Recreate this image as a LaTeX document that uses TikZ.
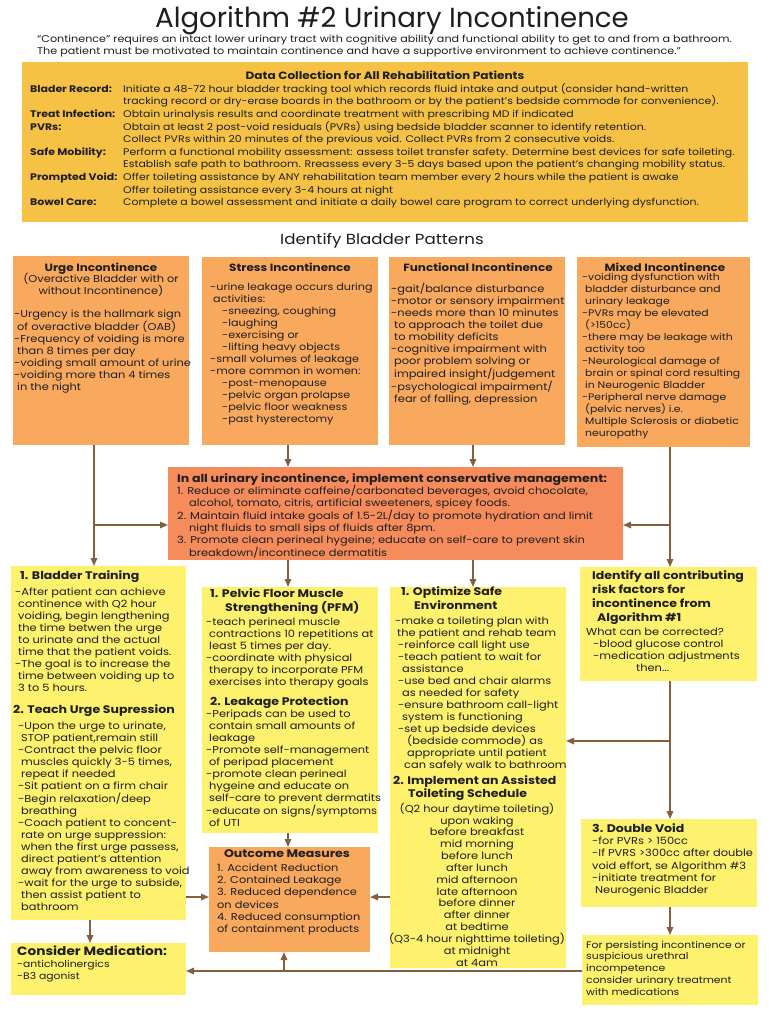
\documentclass[tikz,border=0pt]{standalone}
\usepackage{fontspec}
\setmainfont{Poppins}[FakeStretch=1.14]
\newfontfamily\titlefont{Poppins}
\usetikzlibrary{arrows.meta}
\definecolor{goldbox}{HTML}{F6C245}
\definecolor{orbox}{HTML}{F9A95E}
\definecolor{consbox}{HTML}{F68C5B}
\definecolor{yelbox}{HTML}{FDF16D}
\definecolor{arrc}{HTML}{84603F}
\definecolor{ink}{HTML}{1E1E1E}
\begin{document}
\begin{tikzpicture}[x=1pt,y=-1pt,
  bx/.style={draw=none,inner sep=0pt,outer sep=0pt,anchor=north west},
  orb/.style={bx,fill=orbox},
  ylb/.style={bx,fill=yelbox},
  arr/.style={draw=arrc,line width=1.5pt,-{Triangle[length=8pt,width=6.5pt]}},
  txt/.style={inner sep=0pt,anchor=north west,align=left,text=ink,execute at begin node=\strut},
  ctxt/.style={txt,anchor=north,align=center},
  bd/.style={font=\fontsize{10}{12}\selectfont},
  hd/.style={font=\fontsize{11}{14}\selectfont\bfseries},
  pt/.style={font=\fontsize{10.5}{13}\selectfont\bfseries},
]
\useasboundingbox (0,0) rectangle (768,1024);
\fill[white] (0,0) rectangle (768,1024);

% ---------- title ----------
\node[font=\titlefont\fontsize{27.6}{30}\selectfont,text=ink,inner sep=0pt] (title) at (392,21) {Algorithm \#2 Urinary Incontinence};
\node[txt,font=\fontsize{9.8}{12}\selectfont] (subtitle) at (37,35) {“Continence” requires an intact lower urinary tract with cognitive ability and functional ability to get to and from a bathroom.\\The patient must be motivated to maintain continence and have a supportive environment to achieve continence.”};

% ---------- data collection ----------
\node[bx,fill=goldbox,minimum width=726,minimum height=160] (data) at (22,62) {};
\node[ctxt,font=\fontsize{10.6}{13}\selectfont\bfseries] (datatitle) at (385,70) {Data Collection for All Rehabilitation Patients};
\node[txt,font=\fontsize{9.6}{12.6}\selectfont] (datatext) at (30,83.1) {\makebox[93pt][l]{\bfseries Blader Record:}Initiate a 48-72 hour bladder tracking tool which records fluid intake and output (consider hand-written\\\hspace*{93pt}tracking record or dry-erase boards in the bathroom or by the patient’s bedside commode for convenience).\\\makebox[93pt][l]{\bfseries Treat Infection:}Obtain urinalysis results and coordinate treatment with prescribing MD if indicated\\\makebox[93pt][l]{\bfseries PVRs:}Obtain at least 2 post-void residuals (PVRs) using bedside bladder scanner to identify retention.\\\hspace*{93pt}Collect PVRs within 20 minutes of the previous void. Collect PVRs from 2 consecutive voids.\\\makebox[93pt][l]{\bfseries Safe Mobility:}Perform a functional mobility assessment: assess toilet transfer safety. Determine best devices for safe toileting.\\\hspace*{93pt}Establish safe path to bathroom. Rreassess every 3-5 days based upon the patient’s changing mobility status.\\\makebox[93pt][l]{\bfseries Prompted Void:}Offer toileting assistance by ANY rehabilitation team member every 2 hours while the patient is awake\\\hspace*{93pt}Offer toileting assistance every 3-4 hours at night\\\makebox[93pt][l]{\bfseries Bowel Care:}Complete a bowel assessment and initiate a daily bowel care program to correct underlying dysfunction.};

\node[ctxt,font=\fontsize{14.6}{16}\selectfont] (patterns) at (382,233) {Identify Bladder Patterns};

% ---------- pattern boxes ----------
\node[orb,minimum width=176,minimum height=189] (urge) at (13,256) {};
\node[orb,minimum width=176,minimum height=188] (stress) at (202,257) {};
\node[orb,minimum width=176,minimum height=188] (func) at (389,257) {};
\node[orb,minimum width=173,minimum height=190] (mixed) at (577,257) {};

\node[ctxt,pt] (urget) at (101,261.7) {Urge Incontinence};
\node[ctxt,bd] (urges) at (101,272.6) {(Overactive Bladder with or\\without Incontinence)};
\node[txt,bd] (urgeb) at (14,309.6) {-Urgency is the hallmark sign\\\hspace*{3pt}of overactive bladder (OAB)\\-Frequency of voiding is more\\\hspace*{3pt}than 8 times per day\\-voiding small amount of urine\\-voiding more than 4 times\\\hspace*{3pt}in the night};

\node[ctxt,pt] (stresst) at (290,261.7) {Stress Incontinence};
\node[txt,font=\fontsize{9.8}{12}\selectfont] (stressb) at (210,282.6) {-urine leakage occurs during\\\hspace*{3pt}activities:\\\hspace*{12pt}-sneezing, coughing\\\hspace*{12pt}-laughing\\\hspace*{12pt}-exercising or\\\hspace*{12pt}-lifting heavy objects\\-small volumes of leakage\\-more common in women:\\\hspace*{12pt}-post-menopause\\\hspace*{12pt}-pelvic organ prolapse\\\hspace*{12pt}-pelvic floor weakness\\\hspace*{12pt}-past hysterectomy};

\node[ctxt,pt] (funct) at (478,261.7) {Functional Incontinence};
\node[txt,bd] (funcb) at (391,282.6) {-gait/balance disturbance\\-motor or sensory impairment\\-needs more than 10 minutes\\\hspace*{3pt}to approach the toilet due\\\hspace*{3pt}to mobility deficits\\-cognitive impairment with\\\hspace*{3pt}poor problem solving or\\\hspace*{3pt}impaired insight/judgement\\-psychological impairment/\\\hspace*{3pt}fear of falling, depression};

\node[ctxt,pt] (mixedt) at (665,261.7) {Mixed Incontinence};
\node[txt,font=\fontsize{9.5}{12}\selectfont] (mixedb) at (582,272.6) {-voiding dysfunction with\\\hspace*{3pt}bladder disturbance and\\\hspace*{3pt}urinary leakage\\-PVRs may be elevated\\\hspace*{3pt}(>150cc)\\-there may be leakage with\\\hspace*{3pt}activity too\\-Neurological damage of\\\hspace*{3pt}brain or spinal cord resulting\\\hspace*{3pt}in Neurogenic Bladder\\-Peripheral nerve damage\\\hspace*{3pt}(pelvic nerves) i.e.\\\hspace*{3pt}Multiple Sclerosis or diabetic\\\hspace*{3pt}neuropathy};

% ---------- conservative management ----------
\node[bx,fill=consbox,minimum width=455,minimum height=93] (cons) at (168,467) {};
\node[txt,hd] (const) at (177,472) {In all urinary incontinence, implement conservative management:};
\node[txt,bd] (consb) at (177,484.6) {1. Reduce or eliminate caffeine/carbonated beverages, avoid chocolate,\\\hspace*{12pt}alcohol, tomato, citris, artificial sweeteners, spicey foods.\\2. Maintain fluid intake goals of 1.5-2L/day to promote hydration and limit\\\hspace*{12pt}night fluids to small sips of fluids after 8pm.\\3. Promote clean perineal hygeine; educate on self-care to prevent skin\\\hspace*{12pt}breakdown/incontinece dermatitis};

% ---------- yellow boxes ----------
\node[ylb,minimum width=175,minimum height=354] (bt) at (11,566) {};
\node[ylb,minimum width=176,minimum height=246] (pfm) at (202,587) {};
\node[ylb,minimum width=176,minimum height=381] (opt) at (390,587) {};
\node[ylb,minimum width=177,minimum height=114] (idf) at (580,567) {};
\node[orb,minimum width=161,minimum height=105] (outc) at (209,847) {};
\node[ylb,minimum width=176,minimum height=88] (dv) at (581,819) {};
\node[ylb,minimum width=176,minimum height=70] (pers) at (582,935) {};
\node[ylb,minimum width=175,minimum height=52] (med) at (11,943) {};

% bladder training
\node[txt,hd] (btt) at (20,569.7) {1. Bladder Training};
\node[txt,bd] (btb) at (15,587.6) {-After patient can achieve\\\hspace*{3pt}continence with Q2 hour\\\hspace*{3pt}voiding, begin lengthening\\\hspace*{3pt}the time betwen the urge\\\hspace*{3pt}to urinate and the actual\\\hspace*{3pt}time that the patient voids.\\-The goal is to increase the\\\hspace*{3pt}time between voiding up to\\\hspace*{3pt}3 to 5 hours.};
\node[txt,hd] (tut) at (13,703.7) {2. Teach Urge Supression};
\node[txt,bd] (tub) at (18,721.6) {-Upon the urge to urinate,\\\hspace*{3pt}STOP patient,remain still\\-Contract the pelvic floor\\\hspace*{3pt}muscles quickly 3-5 times,\\\hspace*{3pt}repeat if needed\\-Sit patient on a firm chair\\-Begin relaxation/deep\\\hspace*{3pt}breathing\\-Coach patient to concent-\\\hspace*{3pt}rate on urge suppression:\\\hspace*{3pt}when the first urge passess,\\\hspace*{3pt}direct patient’s attention\\\hspace*{3pt}away from awareness to void\\-wait for the urge to subside,\\\hspace*{3pt}then assist patient to\\\hspace*{3pt}bathroom};

% pelvic floor
\node[txt,hd] (pfmt) at (210,588.7) {1. Pelvic Floor Muscle\\\hspace*{15pt}Strengthening (PFM)};
\node[txt,bd] (pfmb) at (206,617.6) {-teach perineal muscle\\\hspace*{3pt}contractions 10 repetitions at\\\hspace*{3pt}least 5 times per day.\\-coordinate with physical\\\hspace*{3pt}therapy to incorporate PFM\\\hspace*{3pt}exercises into therapy goals};
\node[txt,hd] (lpt) at (210,695.7) {2. Leakage Protection};
\node[txt,bd] (lpb) at (206,709.6) {-Peripads can be used to\\\hspace*{3pt}contain small amounts of\\\hspace*{3pt}leakage\\-Promote self-management\\\hspace*{3pt}of peripad placement\\-promote clean perineal\\\hspace*{3pt}hygeine and educate on\\\hspace*{3pt}self-care to prevent dermatits\\-educate on signs/symptoms\\\hspace*{3pt}of UTI};

% outcome
\node[ctxt,hd] (outct) at (287,847.7) {Outcome Measures};
\node[txt,font=\fontsize{10}{12.2}\selectfont] (outcb) at (217,863.6) {1. Accident Reduction\\2. Contained Leakage\\3. Reduced dependence\\on devices\\4. Reduced consumption\\of containment products};

% optimize
\node[txt,hd] (optt) at (401,586.7) {1. Optimize Safe\\\hspace*{13pt}Environment};
\node[txt,bd] (optb) at (395,616.6) {-make a toileting plan with\\\hspace*{2pt}the patient and rehab team\\\hspace*{3pt}-reinforce call light use\\\hspace*{3pt}-teach patient to wait for\\\hspace*{7pt}assistance\\\hspace*{3pt}-use bed and chair alarms\\\hspace*{7pt}as needed for safety\\\hspace*{3pt}-ensure bathroom call-light\\\hspace*{7pt}system is functioning\\\hspace*{3pt}-set up bedside devices\\\hspace*{12pt}(bedside commode) as\\\hspace*{12pt}appropriate until  patient\\\hspace*{9pt}can safely walk to bathroom};
\node[txt,font=\fontsize{11}{13}\selectfont\bfseries] (schedt) at (393,775.7) {2. Implement an Assisted\\\hspace*{15pt}Toileting Schedule};
\node[ctxt,font=\fontsize{10}{11.85}\selectfont] (schedb) at (477,802.6) {(Q2 hour daytime toileting)\\upon waking\\before breakfast\\mid morning\\before lunch\\after lunch\\mid afternoon\\late afternoon\\before dinner\\after dinner\\at bedtime\\(Q3-4 hour nighttime toileting)\\at midnight\\at 4am};

% identify contributing
\node[txt,hd] (idft) at (592,570.7) {Identify all contributing\\risk factors for\\incontinence from\\\hspace*{5pt}Algorithm \#1};
\node[txt,bd] (idfb) at (586,627.6) {What can be corrected?\\\hspace*{7pt}-blood glucose control\\\hspace*{7pt}-medication adjustments\\\hspace*{50pt}then...};

% double void
\node[txt,hd] (dvt) at (592,822.7) {3. Double Void};
\node[txt,font=\fontsize{10}{12.3}\selectfont] (dvb) at (592,836.6) {-for PVRs > 150cc\\-If PVRS >300cc after double\\void effort, se Algorithm \#3\\-initiate treatment for\\\hspace*{3pt}Neurogenic Bladder};

% persisting
\node[txt,font=\fontsize{9.5}{11.8}\selectfont] (persb) at (586,940.6) {For persisting incontinence or\\suspicious urethral\\incompetence\\consider urinary treatment\\with medications};

% medication
\node[txt,font=\fontsize{12}{14}\selectfont\bfseries] (medt) at (17,945.2) {Consider Medication:};
\node[txt,font=\fontsize{9.5}{12}\selectfont] (medb) at (17,959.6) {-anticholinergics\\-B3 agonist};

% ---------- connectors ----------
\coordinate (ub) at (94,525);
\coordinate (mb) at (670,525);
\coordinate (ib) at (670,741);
\coordinate (ob) at (284,971);
\draw[arr] (94,0 |- urge.south) -- (94,0 |- bt.north);
\draw[arr] (ub) -- (ub -| cons.west);
\draw[arr] (288,0 |- stress.south) -- (288,0 |- cons.north);
\draw[arr] (473,0 |- func.south) -- (473,0 |- cons.north);
\draw[arr] (670,0 |- mixed.south) -- (670,0 |- idf.north);
\draw[arr] (mb) -- (mb -| cons.east);
\draw[arr] (288,0 |- cons.south) -- (288,0 |- pfm.north);
\draw[arr] (473,0 |- cons.south) -- (473,0 |- opt.north);
\draw[arr] (670,0 |- idf.south) -- (670,0 |- dv.north);
\draw[arr] (ib) -- (ib -| opt.east);
\draw[arr] (670,0 |- dv.south) -- (670,0 |- pers.north);
\draw[arr] (288,0 |- pfm.south) -- (288,0 |- outc.north);
\draw[arr] (bt.east |- 0,897) -- (outc.west |- 0,897);
\draw[arr] (opt.west |- 0,897) -- (outc.east |- 0,897);
\draw[arr] (90,0 |- bt.south) -- (90,0 |- med.north);
\draw[arr] (pers.west |- 0,971) -- (med.east |- 0,971);
\draw[arr] (ob) -- (ob |- outc.south);
\end{tikzpicture}
\end{document}
